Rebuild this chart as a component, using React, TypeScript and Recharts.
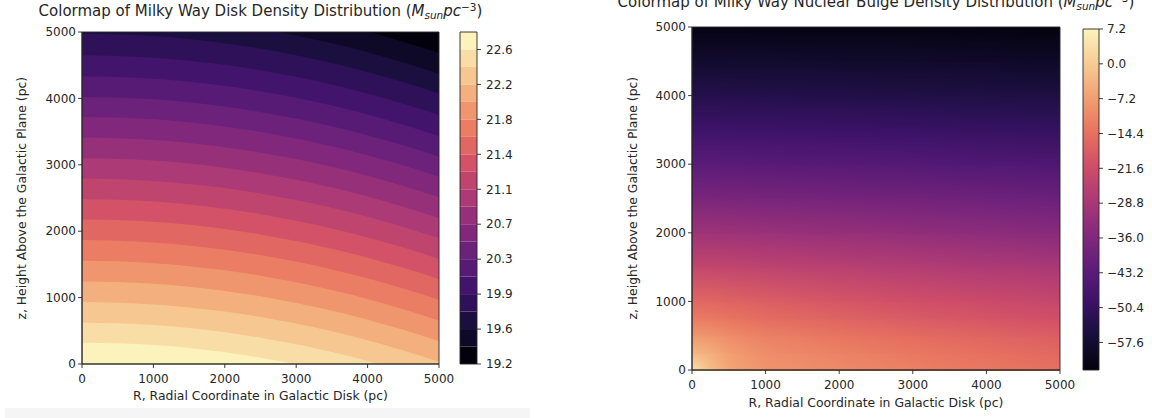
import React from "react";
import { Area, AreaChart, ComposedChart, ReferenceArea, Scatter, XAxis, YAxis } from "recharts";

// magma colormap anchors (slightly toned down), evenly spaced over [0, 1]
const magmaStops = [
  "#03020c", "#170f3a", "#3b1268", "#5f1d7a", "#85297c", "#ac3a76",
  "#d04e68", "#e8735f", "#f2a072", "#f7cc95", "#fbf3bb",
];

const hexToRgb = (h: string) => [1, 3, 5].map((i) => parseInt(h.slice(i, i + 2), 16));

function magma(t: number) {
  const c = Math.min(1, Math.max(0, t)) * (magmaStops.length - 1);
  const i = Math.min(Math.floor(c), magmaStops.length - 2);
  const f = c - i;
  const a = hexToRgb(magmaStops[i]);
  const b = hexToRgb(magmaStops[i + 1]);
  const mix = a.map((v, k) => Math.round(v + (b[k] - v) * f));
  return `rgb(${mix.join(",")})`;
}

// ---- disk: filled contours ----
const axisTicks = [0, 1000, 2000, 3000, 4000, 5000];
const diskR = [0, 500, 1000, 1500, 2000, 2500, 3000, 3500, 4000, 4500, 5000];
// how far each contour drops below its height on the axis, per R sample
const diskSag = [0, 9, 36, 81, 144, 225, 324, 441, 576, 729, 900];
// contour heights at R = 0, from the lowest level up to the highest
const diskEdgeAtAxis = [
  5582, 5271, 4975, 4649, 4333, 4022, 3721, 3410, 3099, 2793, 2482, 2177, 1866, 1555, 1244, 933, 622, 321,
];
const diskLevels = [
  19.18, 19.368, 19.556, 19.744, 19.932, 20.12, 20.308, 20.496, 20.684, 20.872,
  21.06, 21.248, 21.436, 21.624, 21.812, 22.0, 22.188, 22.376, 22.564, 22.752,
];
const diskTicks = diskLevels.filter((_, i) => i % 2 === 0 && i < 19);
const bandCount = diskLevels.length - 1;
const bandColors = Array.from({ length: bandCount }, (_, i) => magma(i / (bandCount - 1)));

const diskRows = diskR.map((R, j) => {
  const row: Record<string, number> = { R, top: 5000 };
  diskEdgeAtAxis.forEach((z0, k) => {
    row[`b${k + 1}`] = z0 - diskSag[j];
  });
  return row;
});

// ---- bulge: smooth density field ----
const bulgeR = [0, 250, 500, 1000, 2000, 3000, 4000, 5000];
const bulgeZ = [0, 250, 500, 750, 1000, 1500, 2000, 2500, 3000, 3500, 4000, 4500, 5000];
const bulgeDensity = [
  [4.5, -2.0, -6.0, -8.6, -10.2, -11.7, -13.1, -14.4],
  [-3.0, -4.6, -7.2, -9.8, -11.6, -13.1, -14.6, -15.9],
  [-8.0, -8.7, -10.0, -11.8, -13.6, -15.2, -16.6, -17.9],
  [-12.5, -12.8, -13.6, -15.0, -16.8, -18.3, -19.6, -20.8],
  [-16.0, -16.3, -16.8, -17.8, -19.4, -20.8, -22.0, -23.2],
  [-23.5, -23.6, -23.9, -24.5, -25.6, -26.6, -27.6, -28.5],
  [-30.5, -30.6, -30.8, -31.2, -32.0, -32.8, -33.6, -34.3],
  [-37.0, -37.1, -37.2, -37.5, -38.1, -38.7, -39.3, -39.9],
  [-43.0, -43.0, -43.1, -43.3, -43.8, -44.3, -44.8, -45.3],
  [-48.5, -48.5, -48.6, -48.8, -49.1, -49.5, -49.9, -50.3],
  [-53.5, -53.5, -53.6, -53.7, -54.0, -54.3, -54.6, -54.9],
  [-58.0, -58.0, -58.0, -58.1, -58.3, -58.5, -58.7, -59.0],
  [-62.0, -62.0, -62.0, -62.1, -62.2, -62.4, -62.6, -63.0],
];
const bulgeMin = -63.3;
const bulgeMax = 7.2;
const bulgeTicks = [7.2, 0, -7.2, -14.4, -21.6, -28.8, -36.0, -43.2, -50.4, -57.6];
const bulgeColor = (v: number) => magma((v - bulgeMin) / (bulgeMax - bulgeMin));
const bulgeNodes = bulgeZ.flatMap((z) => bulgeR.map((R) => ({ R, z })));

const FONT = "'DejaVu Sans', sans-serif";
const INK = "#262626";
const tickStyle = { fontSize: 12, fill: INK, fontFamily: FONT };
const lineStyle = { stroke: INK, strokeWidth: 0.9 };
const minus = (v: number) => (v < 0 ? "\u2212" : "") + Math.abs(v).toFixed(1);
const NoMark = () => <g />;

function Defs() {
  return (
    <svg width={0} height={0} style={{ position: "absolute" }}>
      <defs>
        {bulgeDensity.map((row, j) => (
          <linearGradient key={j} id={`bulgeRow${j}`} x1="0" y1="0" x2="1" y2="0">
            {row.map((v, i) => (
              <stop key={i} offset={bulgeR[i] / 5000} stopColor={bulgeColor(v)} />
            ))}
          </linearGradient>
        ))}
        <linearGradient id="fadeUpGrad" x1="0" y1="1" x2="0" y2="0">
          <stop offset="0" stopColor="black" />
          <stop offset="1" stopColor="white" />
        </linearGradient>
        <mask id="fadeUp" maskContentUnits="objectBoundingBox">
          <rect x="0" y="0" width="1" height="1" fill="url(#fadeUpGrad)" />
        </mask>
        <linearGradient id="bulgeBar" x1="0" y1="1" x2="0" y2="0">
          {magmaStops.map((c, i) => (
            <stop key={i} offset={i / (magmaStops.length - 1)} stopColor={c} />
          ))}
        </linearGradient>
      </defs>
    </svg>
  );
}

function Text({ x, y, rotate, size = 12.4, children }: any) {
  return (
    <div
      style={{
        position: "absolute",
        left: x - 300,
        top: y - size / 2,
        width: 600,
        lineHeight: `${size}px`,
        fontSize: size,
        fontFamily: FONT,
        color: INK,
        textAlign: "center",
        whiteSpace: "nowrap",
        transform: rotate ? "rotate(-90deg)" : undefined,
      }}
    >
      {children}
    </div>
  );
}

const Units = () => (
  <>
    (<i>M</i>
    <i style={{ fontSize: "0.7em", position: "relative", top: 3 }}>sun</i>
    <i>pc</i>
    <span style={{ fontSize: "0.7em", position: "relative", top: -5 }}>{"\u22123"}</span>)
  </>
);

const frame = (
  <ReferenceArea x1={0} x2={5000} y1={0} y2={5000} fill="none" stroke={INK} strokeWidth={0.9} />
);

function DiskChart() {
  return (
    <AreaChart width={460} height={418} data={diskRows} margin={{ top: 32, right: 21, bottom: 24, left: 32 }}>
      <XAxis dataKey="R" type="number" domain={[0, 5000]} ticks={axisTicks} allowDataOverflow tick={tickStyle} tickLine={lineStyle} axisLine={lineStyle} tickSize={4} tickMargin={6} interval={0} />
      <YAxis type="number" domain={[0, 5000]} ticks={axisTicks} allowDataOverflow width={50} tick={tickStyle} tickLine={lineStyle} axisLine={lineStyle} tickSize={4} tickMargin={2} interval={0} />
      <Area dataKey="top" type="monotone" fill={bandColors[0]} fillOpacity={1} stroke="none" dot={false} activeDot={false} isAnimationActive={false} />
      {diskEdgeAtAxis.map((_, k) => (
        <Area
          key={k}
          dataKey={`b${k + 1}`}
          type="monotone"
          fill={bandColors[k + 1]}
          fillOpacity={1}
          stroke="none"
          dot={false}
          activeDot={false}
          isAnimationActive={false}
        />
      ))}
      {frame}
    </AreaChart>
  );
}

function DiskColorbar() {
  const marks = diskLevels.map((y) => ({ x: 0.5, y }));
  return (
    <ComposedChart width={90} height={418} data={marks} margin={{ top: 32, right: 8, bottom: 54, left: 20 }}>
      <XAxis dataKey="x" type="number" domain={[0, 1]} hide />
      <YAxis dataKey="y" orientation="right" type="number" domain={[diskLevels[0], diskLevels[bandCount]]} ticks={diskTicks} tickFormatter={(v: number) => v.toFixed(1)} width={45} tick={tickStyle} tickLine={lineStyle} axisLine={false} tickSize={4} tickMargin={5} interval={0} />
      <Scatter data={marks} shape={NoMark} isAnimationActive={false} />
      {bandColors.map((c, i) => (
        <ReferenceArea key={i} y1={diskLevels[i]} y2={diskLevels[i + 1]} fill={c} fillOpacity={1} stroke="none" />
      ))}
      <ReferenceArea y1={diskLevels[0]} y2={diskLevels[bandCount]} fill="none" stroke={INK} strokeWidth={0.9} />
    </ComposedChart>
  );
}

function BulgeChart() {
  const layers: React.ReactNode[] = [];
  bulgeZ.slice(0, -1).forEach((z0, j) => {
    layers.push(
      <ReferenceArea
        key={`lo${j}`}
        x1={0}
        x2={5000}
        y1={z0}
        y2={bulgeZ[j + 1]}
        shape={(p: any) => <rect x={p.x} y={p.y} width={p.width} height={p.height + 1} fill={`url(#bulgeRow${j})`} />}
      />,
      <ReferenceArea
        key={`hi${j}`}
        x1={0}
        x2={5000}
        y1={z0}
        y2={bulgeZ[j + 1]}
        shape={(p: any) => (
          <rect x={p.x} y={p.y} width={p.width} height={p.height + 1} fill={`url(#bulgeRow${j + 1})`} mask="url(#fadeUp)" />
        )}
      />
    );
  });
  return (
    <ComposedChart width={490} height={418} data={bulgeNodes} margin={{ top: 27, right: 30, bottom: 18, left: 42 }}>
      <XAxis dataKey="R" type="number" domain={[0, 5000]} ticks={axisTicks} tick={tickStyle} tickLine={lineStyle} axisLine={lineStyle} tickSize={4} tickMargin={6} interval={0} />
      <YAxis dataKey="z" type="number" domain={[0, 5000]} ticks={axisTicks} width={50} tick={tickStyle} tickLine={lineStyle} axisLine={lineStyle} tickSize={4} tickMargin={2} interval={0} />
      <Scatter data={bulgeNodes} shape={NoMark} isAnimationActive={false} />
      {layers}
      {frame}
    </ComposedChart>
  );
}

function BulgeColorbar() {
  const marks = bulgeTicks.map((y) => ({ x: 0.5, y }));
  return (
    <ComposedChart width={92} height={418} data={marks} margin={{ top: 29, right: 8, bottom: 48, left: 23 }}>
      <XAxis dataKey="x" type="number" domain={[0, 1]} hide />
      <YAxis dataKey="y" orientation="right" type="number" domain={[bulgeMin, bulgeMax]} ticks={bulgeTicks} tickFormatter={minus} width={45} tick={tickStyle} tickLine={lineStyle} axisLine={false} tickSize={4} tickMargin={4} interval={0} />
      <Scatter data={marks} shape={NoMark} isAnimationActive={false} />
      <ReferenceArea y1={bulgeMin} y2={bulgeMax} fill="url(#bulgeBar)" fillOpacity={1} stroke={INK} strokeWidth={0.9} />
    </ComposedChart>
  );
}

export default function App() {
  return (
    <div style={{ position: "absolute", left: 0, top: 0, width: 1152, height: 418, background: "#fff", overflow: "hidden" }}>
      <Defs />
      <div style={{ position: "absolute", left: 5, top: 408, width: 525, height: 10, background: "#f5f5f5" }} />
      <div style={{ position: "absolute", left: 0, top: 0 }}>
        <DiskChart />
      </div>
      <div style={{ position: "absolute", left: 440, top: 0 }}>
        <DiskColorbar />
      </div>
      <div style={{ position: "absolute", left: 600, top: 0 }}>
        <BulgeChart />
      </div>
      <div style={{ position: "absolute", left: 1060, top: 0 }}>
        <BulgeColorbar />
      </div>
      <Text x={260.5} y={11} size={15}>
        Colormap of Milky Way Disk Density Distribution <Units />
      </Text>
      <Text x={876} y={2} size={15}>
        Colormap of Milky Way Nuclear Bulge Density Distribution <Units />
      </Text>
      <Text x={260.5} y={396}>R, Radial Coordinate in Galactic Disk (pc)</Text>
      <Text x={876} y={403}>R, Radial Coordinate in Galactic Disk (pc)</Text>
      <Text x={22} y={198} rotate>
        z, Height Above the Galactic Plane (pc)
      </Text>
      <Text x={633} y={198.5} rotate>
        z, Height Above the Galactic Plane (pc)
      </Text>
    </div>
  );
}
